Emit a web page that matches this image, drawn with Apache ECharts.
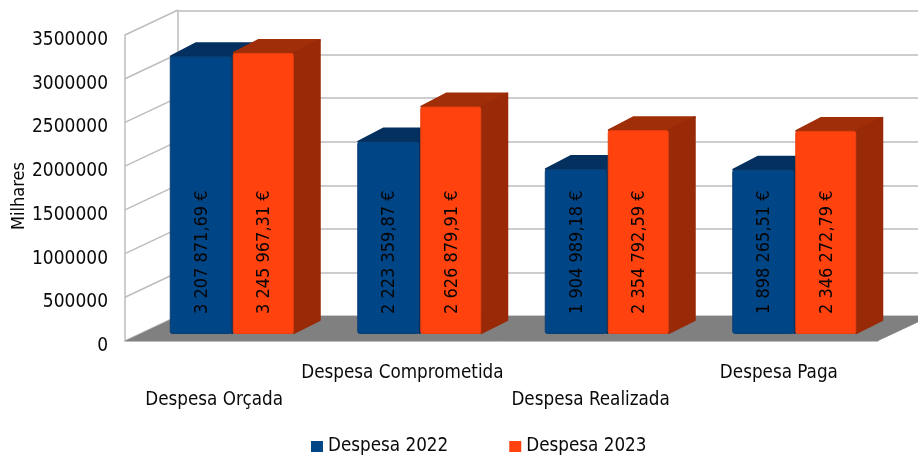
<!DOCTYPE html>
<html>
<head>
<meta charset="utf-8">
<style>
  html, body { margin: 0; padding: 0; background: #fff; }
  #main { width: 918px; height: 457px; }
</style>
<script src="https://cdn.jsdelivr.net/npm/echarts@6/dist/echarts.min.js"></script>
</head>
<body>
<div id="main"></div>
<script>
// dados
var categories = ['Despesa Orçada', 'Despesa Comprometida', 'Despesa Realizada', 'Despesa Paga'];
var despesa2022 = [3207871.69, 2223359.87, 1904989.18, 1898265.51];
var despesa2023 = [3245967.31, 2626879.91, 2354792.59, 2346272.79];
var yTicks = [0, 500000, 1000000, 1500000, 2000000, 2500000, 3000000, 3500000];

var FONT = '"DejaVu Sans Condensed", "DejaVu Sans", sans-serif';
var TEXT = '#0a0a0a';
var WALL = '#bdbdbd';
// profundidade do "3D"
var WALL_DX = 53, WALL_DY = -25;
var BAR_DX = 26, BAR_DY = -13;
var BAR_W = 62;

// 3 207 871,69 €
function money(v) {
  var p = v.toFixed(2).split('.');
  return p[0].replace(/\B(?=(\d{3})+$)/g, ' ') + ',' + p[1] + ' €';
}

function bar3d(front, edge, top, sideColor, dir) {
  return function (params, api) {
    var p = api.coord([api.value(0), api.value(1)]);
    var base = api.coord([api.value(0), 0]);
    var x = dir < 0 ? p[0] - BAR_W : p[0] + 1;
    var w = dir < 0 ? BAR_W : BAR_W - 1;
    var y = p[1];
    var right = x + w;
    return {
      type: 'group',
      children: [
        { type: 'polygon', shape: { points: [[x + 1, y], [x + BAR_DX, y + BAR_DY], [right + BAR_DX, y + BAR_DY], [right, y]] },
          style: { fill: top, stroke: top, lineWidth: 2, lineJoin: 'round' } },
        { type: 'polygon', shape: { points: [[right, y], [right + BAR_DX, y + BAR_DY], [right + BAR_DX, base[1] + BAR_DY - 1], [right, base[1] - 1]] },
          style: { fill: sideColor, stroke: sideColor, lineWidth: 2, lineJoin: 'round' } },
        { type: 'rect', shape: { x: x + 0.5, y: y + 0.5, width: w - 1, height: base[1] - y - 1, r: 2 },
          style: { fill: front, stroke: edge, lineWidth: 1 } },
        { type: 'text', x: x + w / 2 + 1.5, y: base[1] - 20, rotation: Math.PI / 2,
          style: { text: money(api.value(1)), x: 0, y: 0, align: 'left', verticalAlign: 'middle',
            font: '18px ' + FONT, fill: '#050505' } }
      ]
    };
  };
}

function seriesData(values) {
  return values.map(function (v, i) { return [i, v]; });
}

var option = {
  animation: false,
  backgroundColor: '#fff',
  textStyle: { fontFamily: FONT },
  legend: {
    left: 311, top: 437, padding: 0, itemWidth: 12, itemHeight: 11, itemGap: 61, icon: 'rect',
    selectedMode: false,
    data: ['Despesa 2022', 'Despesa 2023'],
    textStyle: { fontSize: 18.7, color: TEXT, fontFamily: FONT }
  },
  grid: [
    { left: 125, top: 35, width: 753, height: 306, outerBoundsMode: 'none' },   // plano da frente (eixos)
    { left: 178, top: 11, width: 753, height: 305, outerBoundsMode: 'none' },   // parede de fundo
    { left: 138, top: 31, width: 750, height: 303, outerBoundsMode: 'none' }    // plano das barras
  ],
  xAxis: [
    { gridIndex: 0, type: 'category', data: categories,
      axisTick: { show: false },
      axisLine: { show: true, lineStyle: { color: WALL } },
      axisLabel: {
        margin: 19, interval: 0, lineHeight: 27, color: TEXT,
        formatter: function (v, i) { return (i % 2 === 0 ? '\n' : '') + '{c|' + v + '}'; },
        rich: { c: { fontSize: 18.7, fontFamily: FONT, color: TEXT, padding: [0, 10, 0, 0], lineHeight: 27 } }
      } },
    { gridIndex: 1, type: 'category', data: categories, show: false },
    { gridIndex: 2, type: 'category', data: categories, show: false }
  ],
  yAxis: [
    { gridIndex: 0, type: 'value', min: 0, max: 3500000, interval: 500000,
      name: 'Milhares', nameLocation: 'middle', nameGap: 97, nameRotate: 90, nameMoveOverlap: false,
      nameTextStyle: { fontSize: 18, color: TEXT, fontFamily: FONT, padding: [0, 16, 0, 0] },
      axisLine: { show: true, lineStyle: { color: WALL, width: 1.5 } },
      axisTick: { show: false },
      splitLine: { show: false },
      axisLabel: { margin: 17, color: TEXT,
        formatter: function (v) { return '{v|' + v + '}'; },
        rich: { v: { fontSize: 19, fontFamily: FONT, color: TEXT, padding: [10, 0, 0, 0] } } } },
    { gridIndex: 1, type: 'value', min: 0, max: 3500000, interval: 500000,
      axisLine: { show: true, lineStyle: { color: WALL, width: 1.5 } },
      axisTick: { show: false }, axisLabel: { show: false },
      splitLine: { show: true, lineStyle: { color: WALL, width: 1.5 } } },
    { gridIndex: 2, type: 'value', min: 0, max: 3500000, show: false, splitLine: { show: false } }
  ],
  series: [
    { // linhas da parede lateral
      type: 'custom', silent: true, xAxisIndex: 0, yAxisIndex: 0, z: 1,
      data: yTicks.map(function (t) { return [0, t]; }),
      renderItem: function (params, api) {
        var x = params.coordSys.x;
        var y = api.coord([0, api.value(1)])[1];
        return { type: 'line', shape: { x1: x, y1: y, x2: x + WALL_DX, y2: y + WALL_DY },
          style: { stroke: WALL, lineWidth: 1.5 } };
      }
    },
    { // chão
      type: 'custom', silent: true, xAxisIndex: 0, yAxisIndex: 0, z: 2,
      data: [[0, 0]],
      renderItem: function (params, api) {
        var c = params.coordSys;
        var y = api.coord([0, 0])[1];
        return { type: 'polygon',
          shape: { points: [[c.x, y], [c.x + WALL_DX, y + WALL_DY], [c.x + c.width + WALL_DX, y + WALL_DY], [c.x + c.width, y]] },
          style: { fill: '#808080' } };
      }
    },
    { name: 'Despesa 2022', type: 'custom', xAxisIndex: 2, yAxisIndex: 2, z: 3,
      itemStyle: { color: '#004586' },
      data: seriesData(despesa2022),
      renderItem: bar3d('#004586', '#0b3f73', '#03305f', '#022f5c', -1) },
    { name: 'Despesa 2023', type: 'custom', xAxisIndex: 2, yAxisIndex: 2, z: 4,
      itemStyle: { color: '#ff420e' },
      data: seriesData(despesa2023),
      renderItem: bar3d('#ff420e', '#e8400f', '#a02e08', '#992a08', 1) }
  ]
};

var chart = echarts.init(document.getElementById('main'));
chart.setOption(option);
</script>
</body>
</html>
